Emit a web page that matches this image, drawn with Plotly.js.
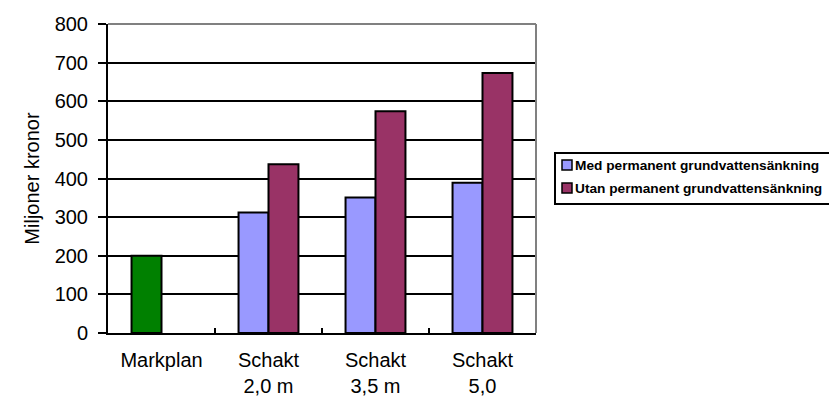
<!DOCTYPE html>
<html>
<head>
<meta charset="utf-8">
<script src="https://cdn.plot.ly/plotly-3.0.1.min.js"></script>
<style>
  html, body { margin: 0; padding: 0; background: #fff; }
  #chart { width: 829px; height: 399px; }
</style>
</head>
<body>
<div id="chart"></div>
<script>
// Categories and values (miljoner kronor)
const categories = ['Markplan', 'Schakt<br>2,0 m', 'Schakt<br>3,5 m', 'Schakt<br>5,0'];
const markplanValue = [200, null, null, null];
const medValues = [null, 312, 351, 389];
const utanValues = [null, 437, 574, 673];
const seriesNames = ['Med permanent grundvattensänkning', 'Utan permanent grundvattensänkning'];
const seriesColors = ['#9999ff', '#993366'];
const yTicks = [0, 100, 200, 300, 400, 500, 600, 700, 800];

const W = 829, H = 399;
const M = { l: 108, r: 293, t: 24, b: 66 };
const plotW = W - M.l - M.r, plotH = H - M.t - M.b;
// pixel position -> paper fraction, used for the hand-built legend box
const px = x => (x - M.l) / plotW;
const py = y => (H - M.b - y) / plotH;

const outline = { color: '#000000', width: 2 };

const traces = [
  {
    type: 'bar', x: categories, y: markplanValue, name: 'Markplan',
    offsetgroup: 'med', showlegend: false,
    marker: { color: '#008000', line: outline }
  },
  {
    type: 'bar', x: categories, y: medValues, name: seriesNames[0],
    offsetgroup: 'med', showlegend: false,
    marker: { color: seriesColors[0], line: outline }
  },
  {
    type: 'bar', x: categories, y: utanValues, name: seriesNames[1],
    offsetgroup: 'utan', showlegend: false,
    marker: { color: seriesColors[1], line: outline }
  }
];

// Legend: bordered box with a small swatch directly followed by bold text
const legendShapes = [
  { type: 'rect', xref: 'paper', yref: 'paper', x0: px(555), x1: px(835), y0: py(153), y1: py(204),
    line: { color: '#000000', width: 2 }, fillcolor: 'rgba(0,0,0,0)' }
];
const legendAnnotations = [];
const rowCenters = [165, 188];
seriesNames.forEach((name, i) => {
  const c = rowCenters[i];
  legendShapes.push({
    type: 'rect', xref: 'paper', yref: 'paper',
    x0: px(562), x1: px(572), y0: py(c - 5), y1: py(c + 5),
    line: { color: '#000000', width: 1.5 }, fillcolor: seriesColors[i]
  });
  legendAnnotations.push({
    xref: 'paper', yref: 'paper', x: px(573), y: py(c), xanchor: 'left', yanchor: 'middle',
    text: '<b>' + name + '</b>', showarrow: false,
    font: { size: 13.7, color: '#000000' }
  });
});

const layout = {
  width: W, height: H,
  margin: { l: M.l, r: M.r, t: M.t, b: M.b, pad: 0 },
  paper_bgcolor: '#ffffff', plot_bgcolor: '#ffffff',
  font: { family: 'Liberation Sans, Arial, sans-serif', size: 20, color: '#000000' },
  barmode: 'group', bargap: 0.44, bargroupgap: 0,
  showlegend: false,
  xaxis: {
    type: 'category', tickson: 'boundaries', ticks: 'inside', ticklen: 5, tickwidth: 2,
    tickcolor: '#000000', showline: true, linecolor: '#000000', linewidth: 2,
    showgrid: false, zeroline: false, ticklabelstandoff: 8,
    tickfont: { size: 20 }, fixedrange: true
  },
  yaxis: {
    range: [0, 800], tickvals: yTicks, ticks: 'outside', ticklen: 8, tickwidth: 2,
    tickcolor: '#000000', showline: true, linecolor: '#000000', linewidth: 2,
    showgrid: true, gridcolor: '#000000', gridwidth: 2, zeroline: false,
    ticklabelstandoff: 6, tickfont: { size: 20 },
    title: { text: 'Miljoner kronor', font: { size: 20 }, standoff: 10 },
    fixedrange: true
  },
  shapes: [
    { type: 'line', xref: 'paper', yref: 'paper', x0: 0, x1: 1, y0: 1, y1: 1,
      line: { color: '#808080', width: 2 } },
    { type: 'line', xref: 'paper', yref: 'paper', x0: 1, x1: 1, y0: 0, y1: 1,
      line: { color: '#808080', width: 2 } }
  ].concat(legendShapes),
  annotations: legendAnnotations
};

Plotly.newPlot('chart', traces, layout, { displayModeBar: false, staticPlot: true });
</script>
</body>
</html>
